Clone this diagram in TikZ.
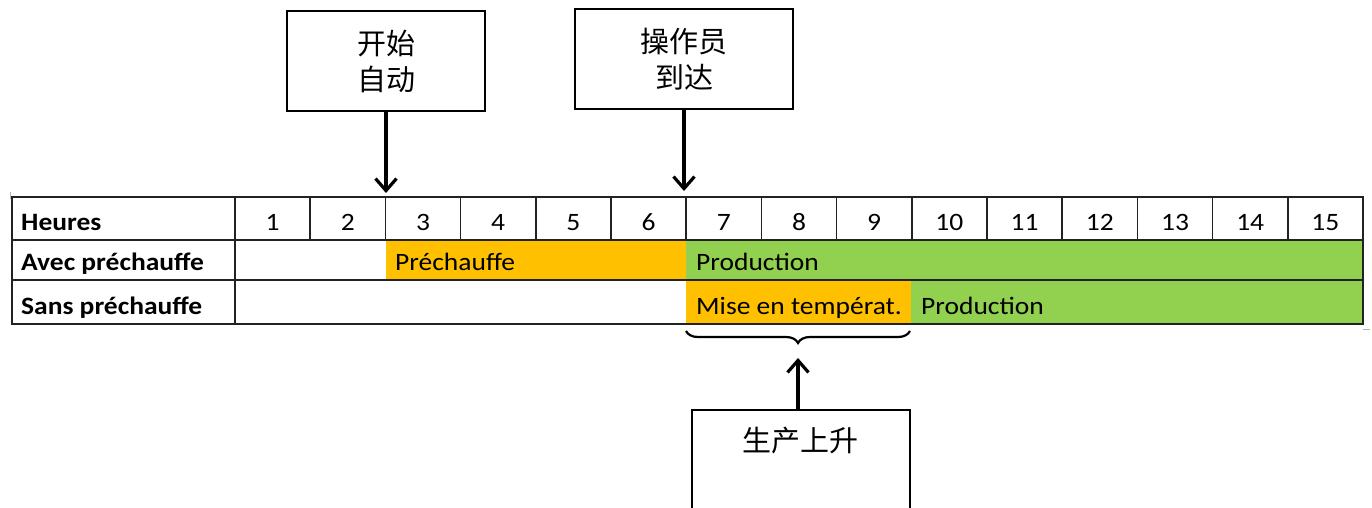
\documentclass[tikz,border=0pt]{standalone}
\usepackage{fontspec}
\setmainfont{Carlito}[FakeStretch=1.1]
\newfontfamily\cjk{Noto Sans CJK SC}
\usetikzlibrary{arrows.meta,decorations.pathreplacing}
\definecolor{orng}{HTML}{FFC000}
\definecolor{grn}{HTML}{92D050}
\definecolor{gridc}{HTML}{222222}
\begin{document}
\begin{tikzpicture}[x=1pt,y=-1pt,
  gridline/.style={gridc,line width=1.6pt},
  lbl/.style={font=\bfseries\fontsize{25}{28}\selectfont,anchor=base west,inner sep=0pt},
  num/.style={font=\fontsize{25}{28}\selectfont,anchor=base,inner sep=0pt},
  bartext/.style={font=\fontsize{25}{28}\selectfont,anchor=base west,inner sep=0pt},
  cbox/.style={draw,line width=1.1pt,inner sep=0pt,align=center,
    font=\cjk\fontsize{29}{36}\selectfont},
  arr/.style={line width=3.2pt,-{Straight Barb[length=12pt,width=21pt,line width=3.2pt]}},
  corner/.style={gray!60,line width=1pt}]
\useasboundingbox (0,0) rectangle (1372,507);
% coloured bars
\fill[orng] (386,240) rectangle (686,280);
\fill[grn] (686,240) rectangle (1363,280);
\fill[orng] (686,280) rectangle (911,324);
\fill[grn] (911,280) rectangle (1363,324);
% table
\draw[gridline] (12,197) rectangle (1363,324);
\draw[gridline] (12,240) -- (1363,240);
\draw[gridline] (12,280) -- (1363,280);
\draw[gridline] (235,197) -- (235,324);
\foreach \k in {1,...,14} \draw[gridline] ({235+75.2*\k},197) -- ({235+75.2*\k},240);
\draw[corner] (10,192) -- (10,199);
\draw[corner] (1363,329) -- (1370,329);
% labels
\node[lbl] (heures) at (21,230) {Heures};
\node[lbl] (avec) at (21,270) {Avec préchauffe};
\node[lbl] (sans) at (21,314) {Sans préchauffe};
\foreach \k in {1,...,15} \node[num] (h\k) at ({235+75.2*(\k-0.5)},230) {\k};
\node[bartext] (pre) at (395,270) {Préchauffe};
\node[bartext] (prod1) at (696,270) {Production};
\node[bartext] (mise) at (696,314) {Mise en températ.};
\node[bartext] (prod2) at (921,314) {Production};
% boxes
\node[cbox,minimum width=198pt,minimum height=100pt] (b1) at (386,61) {开始\\自动};
\node[cbox,minimum width=218pt,minimum height=100pt] (b2) at (684,59) {操作员\\到达};
\node[cbox,minimum width=218pt,minimum height=110pt] (b3) at (801,465) {};
\node[font=\cjk\fontsize{29}{34}\selectfont,inner sep=0pt] (b3t) at (800,441) {生产上升};
% arrows
\coordinate (t1) at (386,193);
\coordinate (t2) at (684,191);
\coordinate (t3) at (798,358);
\draw[arr] (b1.south) -- (t1);
\draw[arr] (b2.south) -- (t2);
\draw[arr] (b3.north -| t3) -- (t3);
% brace
\coordinate (bl) at (686,331);
\coordinate (br) at (910,331);
\draw[line width=2.2pt,decorate,decoration={brace,amplitude=12pt,mirror}] (bl) -- (br);
\end{tikzpicture}
\end{document}
